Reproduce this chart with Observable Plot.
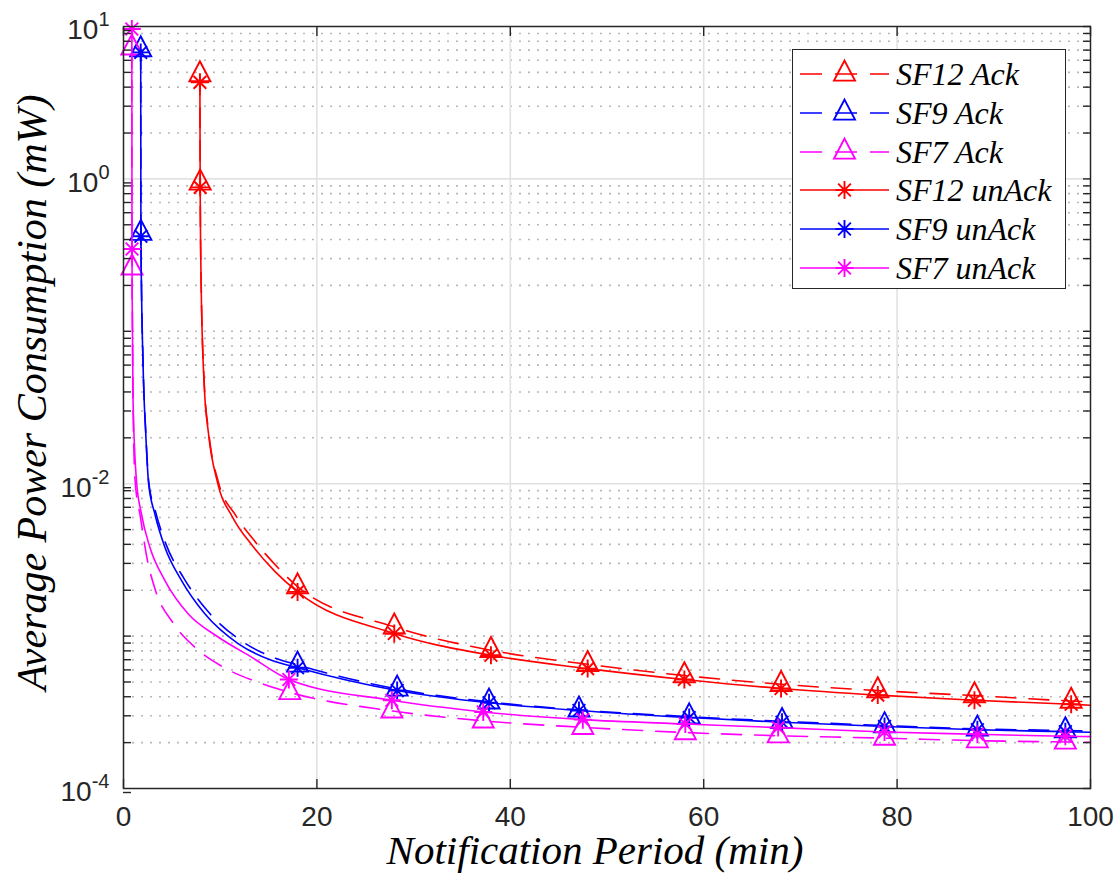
<!DOCTYPE html>
<html>
<head>
<meta charset="utf-8">
<script src="https://cdn.jsdelivr.net/npm/d3@7"></script>
<script src="https://cdn.jsdelivr.net/npm/@observablehq/plot@0.6"></script>
<style>
  body { margin: 0; background: #ffffff; }
  #wrap { position: relative; width: 1118px; height: 875px; background: #ffffff; }
  #legend {
    position: absolute; left: 792px; top: 49px; width: 274px; height: 240px;
    border: 1.4px solid #262626; background: #ffffff; box-sizing: border-box;
    padding: 5px 0 0 7px;
  }
  .lrow { display: flex; align-items: center; height: 38.7px; }
  .lrow svg { flex: none; }
  .lrow span {
    font-family: "Liberation Serif", "Times New Roman", serif; font-style: italic;
    font-size: 32px; color: #000; margin-left: 7px; white-space: nowrap; line-height: 1;
  }
</style>
</head>
<body>
<div id="wrap"></div>
<script>
// ---------- data ----------
const xLabel = "Notification Period (min)";
const yLabel = "Average Power Consumption (mW)";
const xTicks = [0, 20, 40, 60, 80, 100];
const xGrid = [20, 40, 60, 80];
const yMajorTicks = [1e-4, 1e-2, 1, 10];
const yMajorGrid = [1e-2, 1];
const yDecades = [-4, -3, -2, -1, 0];
const yMantissas = [1, 2, 3, 4, 5, 6, 7, 8, 9];

const sf12AckX = [7.9, 7.93, 8.03, 8.34, 8.8, 9.8, 11.6, 13.7, 16, 18, 28, 38, 48, 58, 68, 78, 88, 98, 100];
const sf12AckY = [4.84, 0.94, 0.21, 0.047, 0.022, 0.0103, 0.0062, 0.0041, 0.0028, 0.00211, 0.00115, 0.000807, 0.000653, 0.000551, 0.000483, 0.000439, 0.000407, 0.000375, 0.00037];
const sf12AckMarks = [0, 1, 9, 10, 11, 12, 13, 14, 15, 16, 17];

const sf9AckX = [1.78, 1.8, 2.03, 2.3, 2.6, 3.3, 4.4, 6.2, 8.7, 12.2, 15.6, 18, 28.3, 37.8, 47.1, 58.5, 68.1, 78.7, 88.3, 97.4, 100];
const sf9AckY = [7.06, 0.44, 0.06, 0.022, 0.0104, 0.0066, 0.004, 0.00242, 0.00146, 0.00093, 0.00072, 0.000647, 0.00045, 0.00037, 0.000328, 0.000296, 0.000276, 0.000259, 0.000246, 0.00024, 0.000238];
const sf9AckMarks = [0, 1, 11, 12, 13, 14, 15, 16, 17, 18, 19];

const sf7AckX = [0.86, 0.88, 0.92, 1.0, 1.2, 1.75, 2.41, 3.3, 5.13, 7.54, 10.54, 13.85, 17.2, 27.75, 37.2, 47.5, 58.1, 67.7, 78.7, 88.3, 97.4, 100];
const sf7AckY = [7.24, 0.261, 0.12, 0.03, 0.0105, 0.00604, 0.0033, 0.002, 0.00122, 0.000828, 0.000615, 0.0005, 0.000427, 0.000323, 0.000278, 0.000252, 0.000233, 0.000222, 0.000214, 0.000206, 0.000202, 0.000201];
const sf7AckMarks = [0, 1, 12, 13, 14, 15, 16, 17, 18, 19, 20];

const sf12UnAckX = [7.9, 7.93, 8.03, 8.34, 8.79, 9.72, 11.3, 13.3, 15.65, 18, 28, 38, 48, 58, 68, 78, 88, 98, 100];
const sf12UnAckY = [4.3, 0.88, 0.205, 0.045, 0.0213, 0.0102, 0.006, 0.00394, 0.00266, 0.00195, 0.00104, 0.000748, 0.000612, 0.000519, 0.000453, 0.00041, 0.000379, 0.000357, 0.000352];
const sf12UnAckMarks = [0, 1, 9, 10, 11, 12, 13, 14, 15, 16, 17];

const sf9UnAckX = [1.78, 1.8, 2.03, 2.3, 2.6, 3.24, 4.27, 5.99, 8.41, 11.85, 15.3, 18, 28.3, 37.8, 47.1, 58.5, 68.1, 78.7, 88.3, 97.4, 100];
const sf9UnAckY = [6.76, 0.42, 0.058, 0.0213, 0.01, 0.00635, 0.00384, 0.00232, 0.0014, 0.000893, 0.000694, 0.00062, 0.00044, 0.000365, 0.000325, 0.000292, 0.000272, 0.000255, 0.000243, 0.000236, 0.000234];
const sf9UnAckMarks = [0, 1, 11, 12, 13, 14, 15, 16, 17, 18, 19];

const sf7UnAckX = [0.86, 0.88, 0.9, 0.99, 1.34, 1.85, 2.72, 4.27, 6.68, 9.79, 13.2, 17.1, 27.75, 37.2, 47.5, 58.1, 67.7, 78.7, 88.3, 97.4, 100];
const sf7UnAckY = [9.63, 0.347, 0.159, 0.035, 0.0105, 0.00635, 0.00384, 0.00232, 0.0014, 0.000986, 0.00073, 0.000519, 0.000379, 0.000318, 0.000283, 0.000265, 0.000251, 0.000235, 0.000227, 0.00022, 0.000219];
const sf7UnAckMarks = [0, 1, 11, 12, 13, 14, 15, 16, 17, 18, 19];

const seriesNames = ["SF12 Ack", "SF9 Ack", "SF7 Ack", "SF12 unAck", "SF9 unAck", "SF7 unAck"];
const seriesColors = ["#ff0000", "#0000ff", "#ff00ff", "#ff0000", "#0000ff", "#ff00ff"];
const seriesAck = [true, true, true, false, false, false];

// ---------- build ----------
const xs = [sf12AckX, sf9AckX, sf7AckX, sf12UnAckX, sf9UnAckX, sf7UnAckX];
const ys = [sf12AckY, sf9AckY, sf7AckY, sf12UnAckY, sf9UnAckY, sf7UnAckY];
const ms = [sf12AckMarks, sf9AckMarks, sf7AckMarks, sf12UnAckMarks, sf9UnAckMarks, sf7UnAckMarks];

const yMinorTicks = yDecades.flatMap(e => yMantissas.map(m => m * Math.pow(10, e)))
  .filter(v => !yMajorTicks.some(t => Math.abs(t - v) / t < 1e-9));

const triSym = {
  draw(ctx, size) {
    const r = Math.sqrt(size / Math.PI);
    const h = 2 * r, w = 2.1 * r;
    ctx.moveTo(0, -2 * h / 3);
    ctx.lineTo(w / 2, h / 3);
    ctx.lineTo(-w / 2, h / 3);
    ctx.closePath();
  }
};
const astSym = {
  draw(ctx, size) {
    const r = Math.sqrt(size / Math.PI);
    const d = r * Math.SQRT1_2;
    ctx.moveTo(0, -r); ctx.lineTo(0, r);
    ctx.moveTo(-r, 0); ctx.lineTo(r, 0);
    ctx.moveTo(-d, -d); ctx.lineTo(d, d);
    ctx.moveTo(-d, d); ctx.lineTo(d, -d);
  }
};

const DASH = "20,13";
const seriesMarks = [];
seriesNames.forEach((name, s) => {
  const rows = xs[s].map((x, i) => ({x, y: ys[s][i], series: name}));
  const markRows = ms[s].map(i => rows[i]);
  seriesMarks.push(
    Plot.line(rows, {x: "x", y: "y", stroke: seriesColors[s], strokeWidth: 1.6,
      strokeDasharray: seriesAck[s] ? DASH : null, curve: "monotone-x"}),
    Plot.dot(markRows, {x: "x", y: "y", symbol: seriesAck[s] ? triSym : astSym,
      r: seriesAck[s] ? 10 : 9, fill: "none", stroke: seriesColors[s], strokeWidth: 1.9})
  );
});

const chart = Plot.plot({
  width: 1118, height: 875,
  marginLeft: 123, marginRight: 28, marginTop: 26, marginBottom: 87,
  x: {domain: [0, 100], label: null},
  y: {type: "log", domain: [1e-4, 10], label: null},
  style: {fontFamily: "'Liberation Sans', Arial, sans-serif", fontSize: "28px", background: "#ffffff", color: "#262626"},
  marks: [
    Plot.ruleY(yMinorTicks, {stroke: "#b8b8b8", strokeWidth: 1.6, strokeDasharray: "2,7"}),
    Plot.ruleX(xGrid, {stroke: "#e2e2e2", strokeWidth: 1.6}),
    Plot.ruleY(yMajorGrid, {stroke: "#e2e2e2", strokeWidth: 1.6}),
    ...seriesMarks,
    Plot.frame({stroke: "#262626", strokeWidth: 1.5}),
    Plot.axisX(xTicks, {anchor: "bottom", tickSize: -9, tickPadding: 27, tickFormat: d => String(d), label: null, strokeWidth: 1.4}),
    Plot.axisX(xTicks, {anchor: "top", tickSize: -9, fill: "none", label: null, strokeWidth: 1.4}),
    Plot.axisY(yMajorTicks, {anchor: "left", tickSize: -8, tickPadding: 22, dy: 4,
      tickFormat: d => "10^" + Math.round(Math.log10(d)), label: null, strokeWidth: 1.4}),
    Plot.axisY(yMinorTicks, {anchor: "left", tickSize: -8, fill: "none", label: null, strokeWidth: 1.4}),
    Plot.axisY(yMajorTicks, {anchor: "right", tickSize: -8, fill: "none", label: null, strokeWidth: 1.4}),
    Plot.axisY(yMinorTicks, {anchor: "right", tickSize: -8, fill: "none", label: null, strokeWidth: 1.4}),
    Plot.text([xLabel], {text: d => d, frameAnchor: "bottom", dx: -12, dy: 62, textAnchor: "middle", lineAnchor: "middle",
      fontFamily: "'Liberation Serif', 'Times New Roman', serif", fontStyle: "italic", fontSize: 41, fill: "#000"}),
    Plot.text([yLabel], {text: d => d, frameAnchor: "left", dx: -91, dy: -15, rotate: -90, textAnchor: "middle", lineAnchor: "middle",
      fontFamily: "'Liberation Serif', 'Times New Roman', serif", fontStyle: "italic", fontSize: 42, fill: "#000"})
  ]
});

// superscript exponents on the y tick labels
const NS = "http://www.w3.org/2000/svg";
chart.querySelectorAll('g[aria-label="y-axis tick label"] text').forEach(t => {
  const parts = t.textContent.split("^");
  if (parts.length < 2) return;
  t.textContent = "";
  const base = document.createElementNS(NS, "tspan");
  base.textContent = parts[0];
  const sup = document.createElementNS(NS, "tspan");
  sup.textContent = parts[1];
  sup.setAttribute("font-size", "20");
  sup.setAttribute("dy", "-13");
  t.append(base, sup);
});

const wrap = document.getElementById("wrap");
wrap.appendChild(chart);

// legend
const legend = document.createElement("div");
legend.id = "legend";
seriesNames.forEach((name, s) => {
  const row = document.createElement("div");
  row.className = "lrow";
  const svg = document.createElementNS(NS, "svg");
  svg.setAttribute("width", "89");
  svg.setAttribute("height", "38");
  const line = document.createElementNS(NS, "line");
  line.setAttribute("x1", "0"); line.setAttribute("x2", "89");
  line.setAttribute("y1", "19"); line.setAttribute("y2", "19");
  line.setAttribute("stroke", seriesColors[s]);
  line.setAttribute("stroke-width", "1.6");
  if (seriesAck[s]) line.setAttribute("stroke-dasharray", "22,13");
  svg.appendChild(line);
  const p = d3.path();
  (seriesAck[s] ? triSym : astSym).draw(p, Math.PI * (seriesAck[s] ? 100 : 81));
  const path = document.createElementNS(NS, "path");
  path.setAttribute("d", p.toString());
  path.setAttribute("transform", "translate(44.5,19)");
  path.setAttribute("fill", "none");
  path.setAttribute("stroke", seriesColors[s]);
  path.setAttribute("stroke-width", "1.9");
  svg.appendChild(path);
  const span = document.createElement("span");
  span.textContent = name;
  row.append(svg, span);
  legend.appendChild(row);
});
wrap.appendChild(legend);
</script>
</body>
</html>
